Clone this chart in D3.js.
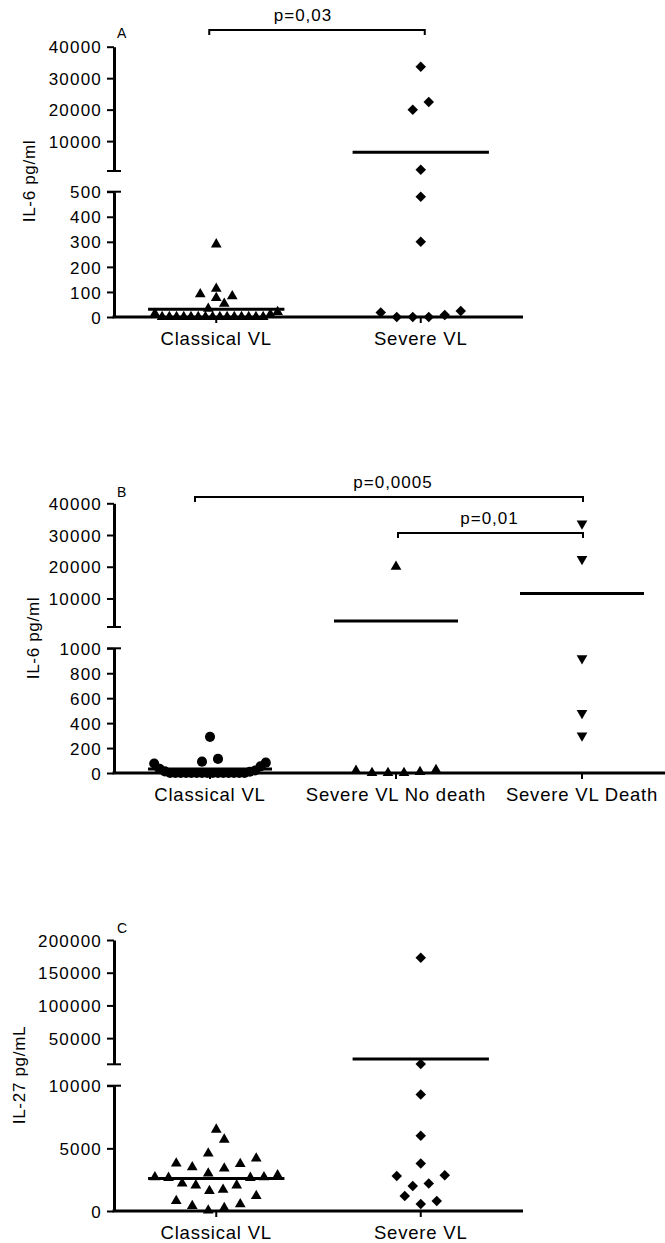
<!DOCTYPE html>
<html>
<head>
<meta charset="utf-8">
<script src="https://cdn.jsdelivr.net/npm/d3@7"></script>
<style>
  body { margin: 0; background: #fff; }
  svg text { font-family: 'Liberation Sans', Arial, sans-serif; fill: #000; }
</style>
</head>
<body>
<svg id="chart" width="665" height="1243"></svg>
<script>
// ---- data ----
// IL-6 pg/ml (panels A and B)
var il6Classical = [0, 0, 0, 0, 0, 0, 0, 0, 0, 0, 0, 0, 0, 0, 0, 10, 13, 20, 33, 53, 76, 83, 91, 113, 290]
var il6SevereNoDeath = [0, 0, 0, 8, 18, 24, 20000]
var il6SevereDeath = [300, 480, 920, 22400, 33600]
var il6Severe = il6SevereNoDeath.concat(il6SevereDeath)

// IL-27 pg/mL (panel C)
var il27Classical = [50, 250, 400, 550, 800, 1200, 1600, 1700, 2050, 2050, 2200, 2650, 2650, 2700, 2700,
  2850, 3000, 3400, 3500, 3750, 3800, 4200, 4600, 5700, 6500]
var il27Severe = [550, 800, 1200, 2000, 2200, 2800, 2850, 3800, 6000, 9300, 10500, 173000]

var catsAC = ['Classical VL', 'Severe VL']
var catsB = ['Classical VL', 'Severe VL No death', 'Severe VL Death']

var ticksIl6High = [10000, 20000, 30000, 40000]
var ticksALow = [0, 100, 200, 300, 400, 500]
var ticksBLow = [0, 200, 400, 600, 800, 1000]
var ticksCHigh = [50000, 100000, 150000, 200000]
var ticksCLow = [0, 5000, 10000]

var svg = d3.select('#chart')

// symbols
var tri = d3.symbol().type(d3.symbolTriangle).size(50)
var sq = d3.symbol().type(d3.symbolSquare).size(55)
var circ = d3.symbol().type(d3.symbolCircle).size(80)

// GraphPad-like scatter: bin by pixel height, spread each bin centre-out
function swarm(values, y, cx, maxW, binH) {
  var pts = values.map(function(v) { return { v: v, y: y(v) } })
    .sort(function(a, b) { return a.v - b.v })
  var out = []
  var i = 0
  while (i < pts.length) {
    var start = pts[i].y
    var bin = []
    while (i < pts.length && start - pts[i].y < binH) { bin.push(pts[i]); i++ }
    var n = bin.length
    var gap = n > 1 ? Math.min(16, maxW / (n - 1)) : 0
    bin.forEach(function(p, k) {
      var slot
      if (n % 2) slot = k === 0 ? 0 : (k % 2 ? Math.ceil(k / 2) : -k / 2)
      else slot = (k % 2 ? 1 : -1) * (Math.floor(k / 2) + 0.5)
      out.push({ v: p.v, x: cx + slot * gap, y: p.y })
    })
  }
  return out
}

function drawPanel(p) {
  var g = svg.append('g')
  var x = d3.scalePoint().domain(p.cats).range(p.xRange).padding(0.5)
  var step = x.step()
  var yLow = d3.scaleLinear().domain(p.lowDomain).range([p.y0, p.lowTop])
  var yHigh = d3.scaleLinear().domain(p.highDomain).range([p.highBottom, p.highTop])
  var y = function(v) { return v <= p.lowDomain[1] ? yLow(v) : yHigh(v) }

  // y axis, two segments
  ;[[yLow, p.lowTicks], [yHigh, p.highTicks]].forEach(function(s) {
    var ax = g.append('g')
      .attr('transform', 'translate(' + p.axisX + ',0)')
      .call(d3.axisLeft(s[0]).tickValues(s[1]).tickSize(7).tickSizeOuter(0).tickPadding(5)
        .tickFormat(d3.format('d')))
    ax.attr('font-family', null).attr('font-size', null)
    ax.select('.domain').attr('stroke-width', 3)
    ax.selectAll('.tick line').attr('stroke-width', 2)
    ax.selectAll('.tick text')
      .attr('font-size', 17)
      .attr('letter-spacing', 1.2)
      .attr('dy', '0.36em')
  })
  // break caps
  ;[yHigh(p.highDomain[0]), yLow(p.lowDomain[1])].forEach(function(yy) {
    g.append('line')
      .attr('x1', p.axisX - 7).attr('x2', p.axisX + 7)
      .attr('y1', yy).attr('y2', yy)
      .attr('stroke', '#000').attr('stroke-width', 2)
  })

  // x axis
  g.append('line')
    .attr('x1', p.axisX - 1.5).attr('x2', p.xEnd)
    .attr('y1', p.y0).attr('y2', p.y0)
    .attr('stroke', '#000').attr('stroke-width', 3)
  p.cats.forEach(function(c) {
    g.append('line')
      .attr('x1', x(c)).attr('x2', x(c))
      .attr('y1', p.y0).attr('y2', p.y0 + 6)
      .attr('stroke', '#000').attr('stroke-width', 2)
    g.append('text')
      .text(c)
      .attr('x', x(c))
      .attr('y', p.y0 + 28)
      .attr('text-anchor', 'middle')
      .attr('font-size', 18.5)
      .attr('letter-spacing', 0.8)
  })

  // y title
  g.append('text')
    .text(p.title)
    .attr('transform', 'translate(' + p.titleX + ',' + p.titleY + ') rotate(-90)')
    .attr('text-anchor', 'middle')
    .attr('font-size', 17)
    .attr('letter-spacing', 0.7)

  // panel letter
  g.append('text')
    .text(p.letter)
    .attr('x', p.axisX + 3)
    .attr('y', p.letterY)
    .attr('font-size', 14)

  // points and mean lines
  p.series.forEach(function(s) {
    var cx = x(s.cat)
    var pts = swarm(s.values, y, cx, step * 0.6, p.binH)
    g.append('line')
      .attr('x1', cx - step / 3).attr('x2', cx + step / 3)
      .attr('y1', y(d3.mean(s.values))).attr('y2', y(d3.mean(s.values)))
      .attr('stroke', '#000').attr('stroke-width', 3)
    g.selectAll(null)
      .data(pts)
      .enter()
      .append('path')
      .attr('d', s.shape)
      .attr('transform', function(d) { return 'translate(' + d.x + ',' + d.y + ') rotate(' + s.rot + ')' })
      .attr('fill', '#000')
  })

  // significance brackets
  p.brackets.forEach(function(b) {
    var x1 = x(b.from) + b.dx1
    var x2 = x(b.to) + b.dx2
    g.append('path')
      .attr('d', 'M' + x1 + ',' + (b.y + 5) + 'V' + b.y + 'H' + x2 + 'V' + (b.y + 5))
      .attr('fill', 'none')
      .attr('stroke', '#000')
      .attr('stroke-width', 2)
    g.append('text')
      .text(b.label)
      .attr('x', (x1 + x2) / 2 + b.labelDx)
      .attr('y', b.y - 9)
      .attr('text-anchor', 'middle')
      .attr('font-size', 17)
      .attr('letter-spacing', 1)
  })
}

drawPanel({
  letter: 'A', letterY: 38,
  cats: catsAC, xRange: [114, 523], xEnd: 523, axisX: 114,
  y0: 317, lowDomain: [0, 500], lowTop: 191.7, lowTicks: ticksALow,
  highDomain: [500, 40000], highBottom: 171, highTop: 46.7, highTicks: ticksIl6High,
  title: 'IL-6 pg/ml', titleX: 35, titleY: 181,
  binH: 8,
  series: [
    { cat: 'Classical VL', values: il6Classical, shape: tri, rot: 0 },
    { cat: 'Severe VL', values: il6Severe, shape: sq, rot: 45 }
  ],
  brackets: [
    { from: 'Classical VL', to: 'Severe VL', dx1: -7, dx2: 4, y: 30, label: 'p=0,03', labelDx: -14 }
  ]
})

drawPanel({
  letter: 'B', letterY: 497,
  cats: catsB, xRange: [117, 675], xEnd: 665, axisX: 114,
  y0: 773, lowDomain: [0, 1000], lowTop: 648.3, lowTicks: ticksBLow,
  highDomain: [1000, 40000], highBottom: 627, highTop: 503.3, highTicks: ticksIl6High,
  title: 'IL-6 pg/ml', titleX: 39, titleY: 638,
  binH: 11,
  series: [
    { cat: 'Classical VL', values: il6Classical, shape: circ, rot: 0 },
    { cat: 'Severe VL No death', values: il6SevereNoDeath, shape: tri, rot: 0 },
    { cat: 'Severe VL Death', values: il6SevereDeath, shape: tri, rot: 180 }
  ],
  brackets: [
    { from: 'Classical VL', to: 'Severe VL Death', dx1: -15, dx2: 1, y: 497, label: 'p=0,0005', labelDx: 4 },
    { from: 'Severe VL No death', to: 'Severe VL Death', dx1: 2, dx2: 1, y: 533, label: 'p=0,01', labelDx: -1 }
  ]
})

drawPanel({
  letter: 'C', letterY: 933,
  cats: catsAC, xRange: [114, 523], xEnd: 523, axisX: 114,
  y0: 1211, lowDomain: [0, 10000], lowTop: 1085.7, lowTicks: ticksCLow,
  highDomain: [10000, 200000], highBottom: 1064.3, highTop: 940, highTicks: ticksCHigh,
  title: 'IL-27 pg/mL', titleX: 25, titleY: 1075,
  binH: 16,
  series: [
    { cat: 'Classical VL', values: il27Classical, shape: tri, rot: 0 },
    { cat: 'Severe VL', values: il27Severe, shape: sq, rot: 45 }
  ],
  brackets: []
})
</script>
</body>
</html>
